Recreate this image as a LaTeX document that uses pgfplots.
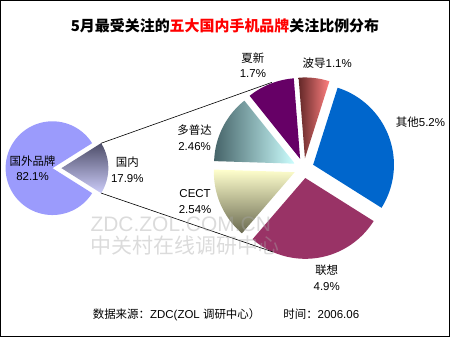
\documentclass[border=0pt]{standalone}
\usepackage{pgfplots}
\pgfplotsset{compat=1.18}
\usepackage{fontspec}
\setmainfont{Liberation Sans}
\newfontfamily\cjk{Noto Sans CJK SC}

\definecolor{peri}{RGB}{155,155,252}
\definecolor{xiaxin}{RGB}{102,0,102}
\definecolor{qita}{RGB}{0,102,204}
\definecolor{lianxiang}{RGB}{153,51,102}

\tikzset{lbl/.style={font=\fontsize{11.5}{15.5}\selectfont, align=center, inner sep=0pt}}

% pie slice: cx, cy, r, start angle, end angle (< start), explode, style
\newcommand{\pieslice}[7]{%
  \pgfmathsetmacro\pmid{(#4+#5)/2}%
  \pgfmathsetmacro\tx{#1+#6*cos(\pmid)}%
  \pgfmathsetmacro\ty{#2-#6*sin(\pmid)}%
  \edef\temp{\noexpand\addplot[#7, draw=none, mark=none, domain=#5:#4, samples=72, variable=\noexpand\t]
    ({\tx+#3*cos(\noexpand\t)},{\ty-#3*sin(\noexpand\t)}) -- (axis cs:\tx,\ty) -- cycle;}%
  \temp
}
% second pie: cumulative value before, value, style
\def\domtotal{17.9}
\newcommand{\bigslice}[3]{%
  \pgfmathsetmacro\sa{94.5-#1*360/\domtotal}%
  \pgfmathsetmacro\ea{\sa-#2*360/\domtotal}%
  \pieslice{304}{168}{81}{\sa}{\ea}{10}{#3}%
}

\begin{document}
\begin{tikzpicture}
\begin{axis}[
  scale only axis, width=450pt, height=337pt,
  xmin=0, xmax=450, ymin=0, ymax=337, y dir=reverse,
  xtick=\empty, ytick=\empty,
  axis line style={line width=1.2pt},
  clip=false,
]
% first pie: 国外品牌 82.1, 国内 17.9
\pieslice{52}{168}{47}{32.22}{-32.22+360}{0}{fill=peri}
\pieslice{52}{168}{47}{32.22}{-32.22}{9}{top color={rgb,255:red,78;green,78;blue,105}, bottom color={rgb,255:red,205;green,205;blue,250}}

% second pie (domestic brands)
\bigslice{0}{1.1}{left color={rgb,255:red,100;green,40;blue,40}, right color={rgb,255:red,255;green,128;blue,128}}
\bigslice{1.1}{5.2}{fill=qita}
\bigslice{6.3}{4.9}{fill=lianxiang}
\bigslice{11.2}{2.54}{top color={rgb,255:red,255;green,255;blue,205}, bottom color={rgb,255:red,105;green,105;blue,80}}
\bigslice{13.74}{2.46}{left color={rgb,255:red,70;green,100;blue,105}, right color={rgb,255:red,205;green,255;blue,255}}
\bigslice{16.2}{1.7}{fill=xiaxin}

% connector lines
\addplot[black, line width=0.6pt, mark=none] coordinates {(100.8,143) (272,82)};
\addplot[black, line width=0.6pt, mark=none] coordinates {(100.8,193) (273,252)};

% watermark
\node[text=gray!70, opacity=0.4, font=\fontsize{21}{24}\selectfont, anchor=west, inner sep=0pt] at (axis cs:90,224) {ZDC.ZOL.COM.CN};
\node[text=gray!70, opacity=0.4, font=\fontsize{21}{24}\selectfont\cjk, anchor=west, inner sep=0pt] at (axis cs:90,246) {中关村在线调研中心};

% title
\node[font=\fontsize{15}{18}\selectfont\cjk\bfseries, inner sep=0pt] at (axis cs:225,25) {5月最受关注的\textcolor{red}{五大国内手机品牌}关注比例分布};

% labels
\node[lbl] at (axis cs:32,168) {{\cjk 国外品牌}\\82.1\%};
\node[lbl] at (axis cs:127,169.5) {{\cjk 国内}\\17.9\%};
\node[lbl] at (axis cs:253,65) {{\cjk 夏新}\\1.7\%};
\node[lbl] at (axis cs:327.5,63) {{\cjk 波导}1.1\%};
\node[lbl] at (axis cs:421,122) {{\cjk 其他}5.2\%};
\node[lbl] at (axis cs:194.5,137.5) {{\cjk 多普达}\\2.46\%};
\node[lbl] at (axis cs:195,201.5) {CECT\\2.54\%};
\node[lbl] at (axis cs:327,278) {{\cjk 联想}\\4.9\%};

% source
\node[lbl] at (axis cs:226,315) {{\cjk 数据来源：}ZDC(ZOL {\cjk 调研中心）}\hspace{2em}{\cjk 时间：}2006.06};
\end{axis}
\end{tikzpicture}
\end{document}
